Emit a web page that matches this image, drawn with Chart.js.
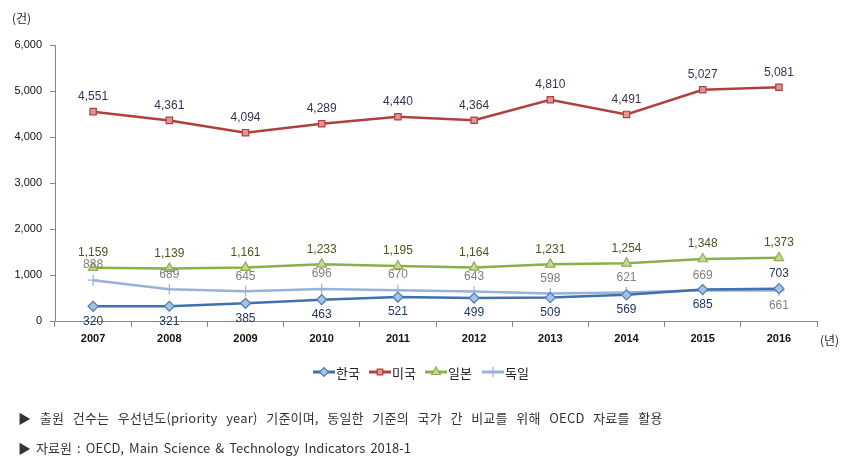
<!DOCTYPE html>
<html>
<head>
<meta charset="utf-8">
<script src="https://cdn.jsdelivr.net/npm/chart.js@4/dist/chart.umd.min.js"></script>
<style>
  html, body { margin: 0; padding: 0; background: #fff; }
  #wrap { position: relative; width: 857px; height: 468px; }
  canvas { position: absolute; left: 0; top: 0; }
  .note { position: absolute; left: 18px; font-family: "Noto Sans CJK KR", sans-serif; font-size: 13px; color: #333; white-space: nowrap; }
</style>
</head>
<body>
<div id="wrap">
  <canvas id="c" width="857" height="468"></canvas>
  <div class="note" style="top:408px; word-spacing:5.5px; letter-spacing:0.2px;">▶ 출원 건수는 우선년도(priority year) 기준이며, 동일한 기준의 국가 간 비교를 위해 OECD 자료를 활용</div>
  <div class="note" style="top:438px; word-spacing:2.2px;">▶ 자료원 : OECD, Main Science &amp; Technology Indicators 2018-1</div>
</div>
<script>
const years = ['2007','2008','2009','2010','2011','2012','2013','2014','2015','2016'];
const korea = [320,321,385,463,521,499,509,569,685,703];
const usa = [4551,4361,4094,4289,4440,4364,4810,4491,5027,5081];
const japan = [1159,1139,1161,1233,1195,1164,1231,1254,1348,1373];
const germany = [888,689,645,696,670,643,598,621,669,661];
const yTicks = [0,1000,2000,3000,4000,5000,6000];
const seriesNames = ['한국','미국','일본','독일'];

// label placement: 1 = above, -1 = below
const koreaPos = [-1,-1,-1,-1,-1,-1,-1,-1,-1,1];
const usaPos = [1,1,1,1,1,1,1,1,1,1];
const japanPos = [1,1,1,1,1,1,1,1,1,1];
const germanyPos = [1,1,1,1,1,1,1,1,1,-1];

const styles = [
  {line:'#4170AC', fill:'#A9C1E2', border:'#4A7EBB', point:'rectRot', r:5, label:'#1F3864', pos:koreaPos},
  {line:'#B0403D', fill:'#DB9896', border:'#B0403D', point:'rect', r:4.5, label:'#3B2F5A', pos:usaPos},
  {line:'#8CAF48', fill:'#C4D79C', border:'#8CAF48', point:'triangle', r:5.5, label:'#4F5420', pos:japanPos},
  {line:'#98B2D9', fill:'#98B2D9', border:'#98B2D9', point:'cross', r:5.5, label:'#7F7F7F', pos:germanyPos}
];
const values = [korea, usa, japan, germany];

const fmt = v => v.toLocaleString('en-US');

const datasets = values.map((d,i) => ({
  label: seriesNames[i],
  data: d,
  borderColor: styles[i].line,
  borderWidth: 2.5,
  backgroundColor: styles[i].fill,
  pointStyle: styles[i].point,
  pointRadius: styles[i].r,
  pointBorderColor: styles[i].border,
  pointBackgroundColor: styles[i].fill,
  pointBorderWidth: 1.2,
  tension: 0,
  fill: false
}));
datasets[3].order = 4; datasets[0].order = 3; datasets[2].order = 2; datasets[1].order = 1;

const extras = {
  id: 'extras',
  afterDatasetsDraw(chart) {
    const ctx = chart.ctx;
    ctx.save();
    ctx.font = '12px "Liberation Sans", "Noto Sans", sans-serif';
    ctx.textAlign = 'center';
    ctx.textBaseline = 'middle';
    chart.data.datasets.forEach((ds, i) => {
      const meta = chart.getDatasetMeta(i);
      meta.data.forEach((pt, j) => {
        const p = styles[i].pos[j];
        ctx.fillStyle = styles[i].label;
        ctx.fillText(fmt(ds.data[j]), pt.x, pt.y - p * 15);
      });
    });
    ctx.fillStyle = '#222';
    ctx.font = '12px "Noto Sans CJK KR", sans-serif';
    ctx.textAlign = 'left';
    ctx.fillText('(건)', 12, 18);
    ctx.fillText('(년)', 820, 340);
    const ly = 372;
    const items = [313, 369, 425, 482];
    ctx.font = '13px "Noto Sans CJK KR", sans-serif';
    items.forEach((x, i) => {
      ctx.strokeStyle = styles[i].line;
      ctx.lineWidth = 3;
      ctx.beginPath(); ctx.moveTo(x, ly); ctx.lineTo(x + 22, ly); ctx.stroke();
      ctx.fillStyle = styles[i].fill; ctx.strokeStyle = styles[i].border; ctx.lineWidth = 1.2;
      Chart.helpers.drawPoint(ctx, {pointStyle: styles[i].point, radius: styles[i].r - 0.5, borderWidth: 1.2}, x + 11, ly);
      ctx.fillStyle = '#222';
      ctx.fillText(seriesNames[i], x + 23, ly + 1);
    });
    ctx.restore();
  }
};

new Chart(document.getElementById('c'), {
  type: 'line',
  data: { labels: years, datasets },
  options: {
    responsive: false,
    animation: false,
    layout: { padding: { left: 0, right: 40, top: 45, bottom: 117 } },
    plugins: { legend: { display: false }, tooltip: { enabled: false } },
    scales: {
      x: {
        offset: true,
        grid: { display: true, drawOnChartArea: false, drawTicks: true, tickLength: 6, offset: true, color: '#868686' },
        border: { color: '#868686', width: 1 },
        ticks: { color: '#111', font: { family: '"Liberation Sans", sans-serif', size: 11, weight: 'bold' }, padding: 5, maxRotation: 0 },
        afterFit(s) { s.height = 30; }
      },
      y: {
        min: 0, max: 6000,
        afterBuildTicks(s) { s.ticks = yTicks.map(v => ({ value: v })); },
        grid: { display: true, drawOnChartArea: false, drawTicks: true, tickLength: 5, color: '#868686' },
        border: { color: '#868686', width: 1 },
        ticks: { color: '#111', font: { family: '"Liberation Sans", sans-serif', size: 11 }, padding: 8, callback: v => fmt(v) },
        afterFit(s) { s.width = 55; }
      }
    }
  },
  plugins: [extras]
});
</script>
</body>
</html>
